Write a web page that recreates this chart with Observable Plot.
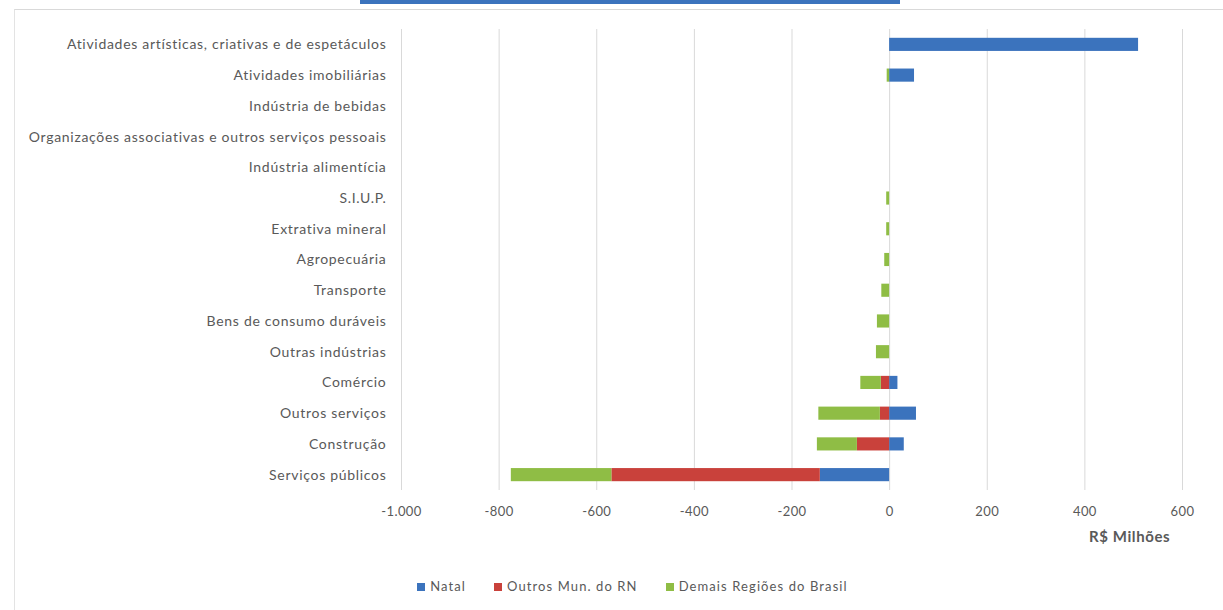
<!DOCTYPE html>
<html>
<head>
<meta charset="utf-8">
<script src="https://cdn.jsdelivr.net/npm/d3@7"></script>
<script src="https://cdn.jsdelivr.net/npm/@observablehq/plot@0.6"></script>
<style>
  html, body { margin: 0; padding: 0; background: #fff; }
  #wrap { position: relative; width: 1223px; height: 610px; overflow: hidden; font-family: Lato, "Open Sans", sans-serif; }
  #topbar { position: absolute; left: 360px; top: 0; width: 540px; height: 4px; background: #3b73bd; }
  #frame { position: absolute; left: 14px; top: 9px; width: 1300px; height: 700px; border-top: 1px solid #d9d9d9; border-left: 1px solid #e3e3e3; }
  #chart { position: absolute; left: 0; top: 0; width: 1223px; }
  #chart g[aria-label="y-axis tick label"] text { letter-spacing: 0.7px; }
  #chart g[aria-label="x-axis tick label"] text { letter-spacing: 0.4px; }
  #unit { position: absolute; left: 1089px; top: 527px; font-size: 15px; letter-spacing: 0.6px; font-weight: bold; color: #595959; }
  #legend { position: absolute; left: 0; width: 1265px; top: 578px; display: flex; justify-content: center; gap: 28px; font-size: 13px; letter-spacing: 1.1px; color: #595959; }
  #legend span.sw { display: inline-block; width: 8px; height: 8px; margin-right: 5px; }
</style>
</head>
<body>
<div id="wrap">
  <div id="topbar"></div>
  <div id="frame"></div>
  <div id="chart"></div>
  <div id="unit">R$ Milhões</div>
  <div id="legend"></div>
</div>
<script>
const categories = [
  "Atividades artísticas, criativas e de espetáculos",
  "Atividades imobiliárias",
  "Indústria de bebidas",
  "Organizações associativas e outros serviços pessoais",
  "Indústria alimentícia",
  "S.I.U.P.",
  "Extrativa mineral",
  "Agropecuária",
  "Transporte",
  "Bens de consumo duráveis",
  "Outras indústrias",
  "Comércio",
  "Outros serviços",
  "Construção",
  "Serviços públicos"
];
const seriesNames = ["Natal", "Outros Mun. do RN", "Demais Regiões do Brasil"];
const seriesColors = ["#3b73bd", "#c9413b", "#8fbd45"];
const natal  = [510, 51, 0, 0, 0, 0, 0, 0, 0, 0, 0, 17, 55, 30, -142];
const outros = [0, 0, 0, 0, 0, 0, 0, 0, 0, 0, 0, -17, -19, -66, -427];
const demais = [0, -5, 0, 0, 0, -6, -6, -10, -16, -25, -27, -42, -126, -82, -206];
const xTicks = [-1000, -800, -600, -400, -200, 0, 200, 400, 600];

const seriesValues = [natal, outros, demais];
const rows = [];
seriesNames.forEach((s, si) => {
  categories.forEach((c, ci) => {
    rows.push({category: c, series: s, value: seriesValues[si][ci]});
  });
});

const fmt = d => {
  const a = Math.abs(d);
  const s = a >= 1000 ? Math.floor(a / 1000) + "." + String(a % 1000).padStart(3, "0") : String(a);
  return (d < 0 ? "-" : "") + s;
};

const textColor = "#595959";
const plot = Plot.plot({
  width: 1223,
  height: 550,
  marginLeft: 401,
  marginRight: 41,
  marginTop: 29,
  marginBottom: 60,
  style: {fontFamily: "Lato, 'Open Sans', sans-serif", background: "transparent"},
  x: {domain: [-1000, 600]},
  y: {domain: categories, padding: 0, round: false},
  color: {domain: seriesNames, range: seriesColors},
  marks: [
    Plot.gridX(xTicks, {stroke: "#d9d9d9", strokeOpacity: 1, strokeWidth: 1}),
    Plot.barX(rows, Plot.stackX({
      y: "category", x: "value", fill: "series",
      insetTop: 8.8, insetBottom: 8.8
    })),
    Plot.axisX({ticks: xTicks, tickFormat: fmt, tickSize: 0, tickPadding: 16, fontSize: 13, fill: textColor, label: null}),
    Plot.axisY({tickSize: 0, tickPadding: 15, fontSize: 14, fill: textColor, label: null})
  ]
});
document.getElementById("chart").appendChild(plot);

const legend = document.getElementById("legend");
seriesNames.forEach((s, i) => {
  const item = document.createElement("div");
  const sw = document.createElement("span");
  sw.className = "sw";
  sw.style.background = seriesColors[i];
  item.appendChild(sw);
  item.appendChild(document.createTextNode(s));
  legend.appendChild(item);
});
</script>
</body>
</html>
